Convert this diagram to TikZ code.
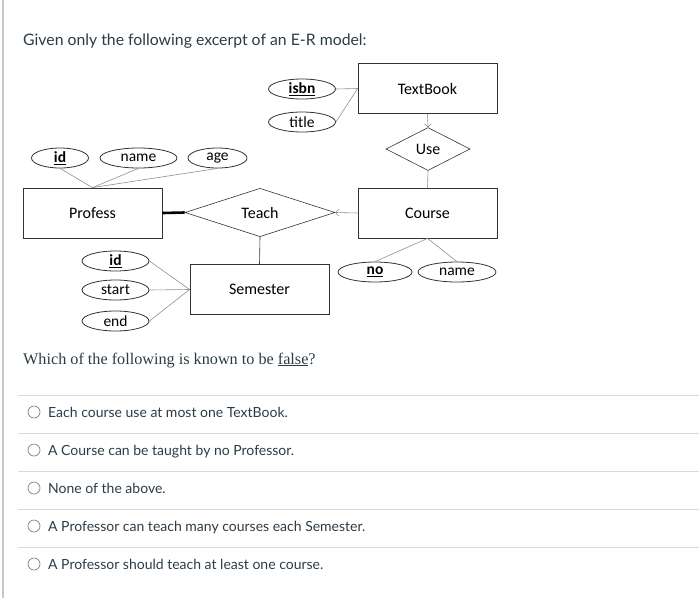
\documentclass[tikz,border=0pt]{standalone}
\usepackage{fontspec}
\setmainfont{Lato}
\newfontfamily\diagfont{Carlito}
\newfontfamily\questfont{Liberation Serif}
\usetikzlibrary{shapes.geometric,arrows.meta}
\definecolor{canvastext}{HTML}{2D3B45}
\definecolor{sepgray}{HTML}{D7DADE}
\definecolor{linkgray}{HTML}{909090}
\definecolor{borderdark}{HTML}{333333}
\begin{document}
\begin{tikzpicture}[x=1pt,y=-1pt,
  entity/.style={draw=borderdark,line width=0.8pt,minimum width=139pt,minimum height=50pt,inner sep=0pt,font=\diagfont\fontsize{16}{18}\selectfont},
  attr/.style={draw=borderdark,line width=0.8pt,ellipse,minimum width=67pt,minimum height=20pt,inner sep=0pt,font=\diagfont\fontsize{15.5}{17}\selectfont},
  rel/.style={draw=borderdark,line width=0.6pt,diamond,inner sep=0pt,font=\diagfont\fontsize{16}{18}\selectfont},
  link/.style={draw=linkgray,line width=0.6pt},
  arr/.style={draw=linkgray,line width=0.6pt,-{Straight Barb[length=3pt,width=7pt]}},
  sepline/.style={draw=sepgray,line width=0.8pt},
  radio/.style={circle,draw=gray,line width=0.7pt,minimum size=12pt,inner sep=0pt},
  opt/.style={anchor=base west,inner sep=0pt,text=canvastext,font=\fontsize{14}{17}\selectfont}
]
\useasboundingbox (0,0) rectangle (699,598);
\draw[draw=sepgray!80!gray,line width=1.2pt] (3,0) -- (3,598);

\node[anchor=base west,inner sep=0pt,text=canvastext,font=\fontsize{15.8}{19}\selectfont] (head) at (23,45) {Given only the following excerpt of an E-R model:};

% entities
\node[entity] (tb) at (427.5,88.5) {TextBook};
\node[entity] (course) at (427.5,213) {Course};
\node[entity] (prof) at (92.5,213) {Profess};
\node[entity] (sem) at (259.5,289.5) {Semester};

% relationships
\node[rel,minimum width=84pt,minimum height=43pt] (use) at (428,149) {Use};
\node[rel,minimum width=150pt,minimum height=44pt] (teach) at (260,212.5) {Teach};

% attributes
\node[attr] (isbn) at (302,89) {\underline{\textbf{isbn}}};
\node[attr] (title) at (302,122) {title};
\node[attr,minimum width=57pt] (pid) at (60,158) {\underline{\textbf{id}}};
\node[attr,minimum width=77pt] (pname) at (138.5,158) {name};
\node[attr,minimum width=59pt] (age) at (217.5,158) {age};
\node[attr,minimum width=74pt] (no) at (375,272) {\underline{\textbf{no}}};
\node[attr,minimum width=78pt] (cname) at (457,272) {name};
\node[attr] (sid) at (115.5,261) {\underline{\textbf{id}}};
\node[attr] (sstart) at (115.5,290) {start};
\node[attr] (send) at (115.5,321) {end};

% connectors
\draw[link] (isbn.east) -- (tb.west);
\draw[link] (title.east) -- (tb.west);
\draw[arr] (tb.south) -- (use.north);
\draw[link] (use.south) -- (course.north);
\draw[link] (prof.north) -- (pid.south);
\draw[link] (prof.north) -- (pname.south);
\draw[link] (prof.north) -- (age.south);
\draw[draw=black,line width=2.6pt] (prof.east) -- (teach.west);
\draw[arr] (course.west) -- (teach.east);
\draw[draw=borderdark,line width=0.6pt] (teach.south) -- (sem.north);
\draw[link] (course.south) -- (no.north);
\draw[link] (course.south) -- (cname.north);
\draw[link] (sem.west) -- (sid.east);
\draw[link] (sem.west) -- (sstart.east);
\draw[link] (sem.west) -- (send.east);

% question
\node[anchor=base west,inner sep=0pt,text=canvastext,font=\questfont\fontsize{16.2}{19}\selectfont] (quest) at (23,364) {Which of the following is known to be \underline{false}?};

% options
\foreach \yy in {395,433,471,509,547} {\draw[sepline] (18,\yy) -- (699,\yy);}
\node[radio] (r1) at (34,412) {};
\node[radio] (r2) at (34,450) {};
\node[radio] (r3) at (34,488) {};
\node[radio] (r4) at (34,526) {};
\node[radio] (r5) at (34,564) {};
\node[opt] (o1) at (48,417) {Each course use at most one TextBook.};
\node[opt] (o2) at (48,455) {A Course can be taught by no Professor.};
\node[opt] (o3) at (48,493) {None of the above.};
\node[opt] (o4) at (48,531) {A Professor can teach many courses each Semester.};
\node[opt] (o5) at (48,569) {A Professor should teach at least one course.};
\end{tikzpicture}
\end{document}
